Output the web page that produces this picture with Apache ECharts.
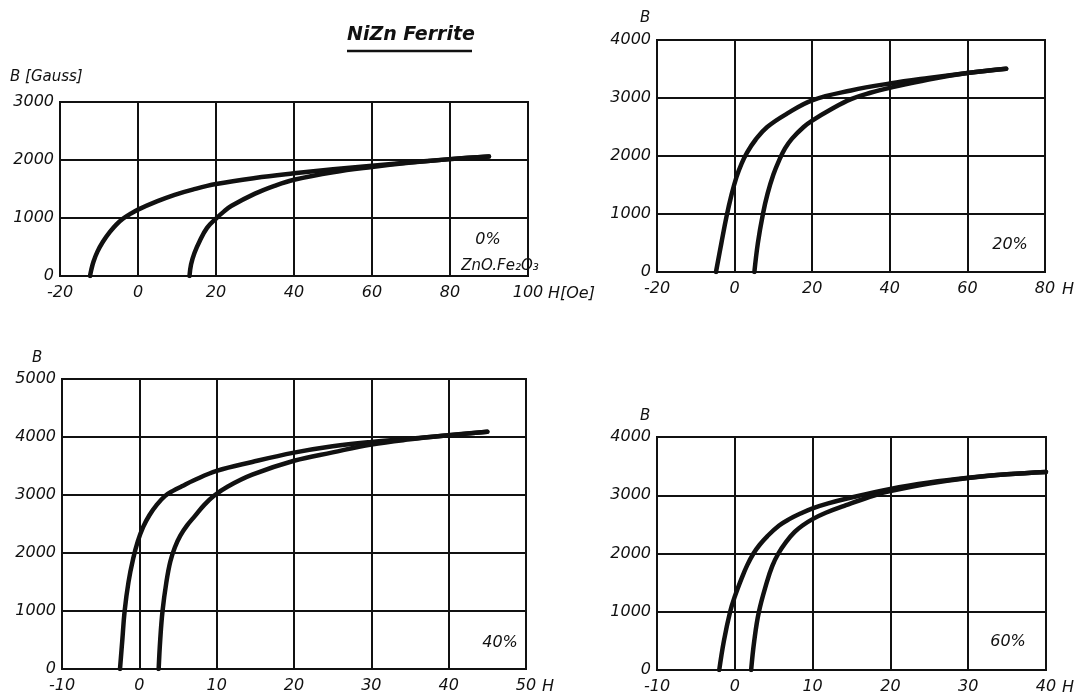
<!DOCTYPE html>
<html>
<head>
<meta charset="utf-8">
<script src="https://cdn.jsdelivr.net/npm/echarts@6/dist/echarts.min.js"></script>
<style>
  html, body { margin: 0; background: #fff; }
  #main { width: 1079px; height: 698px; }
</style>
</head>
<body>
<div id="main"></div>
<script>
// NiZn ferrite B-H curves, points are [H (Oe), B (Gauss)]
const panelLabels = ['0%', '20%', '40%', '60%']

// 0 % ZnO.Fe2O3
const upper0 = [[-12.3,0],[-12,100],[-11.4,250],[-10.4,420],[-9,590],[-7.2,760],[-5.5,890],[-3.8,990],[-2,1070],[0,1145],[5,1290],[9.4,1400],[14,1490],[20,1585],[30,1690],[40,1770],[50,1840],[60,1900],[70,1960],[80,2015],[90,2060]]
const lower0 = [[13.2,0],[13.6,200],[14.5,400],[15.8,600],[17.7,830],[20,990],[22,1110],[24,1210],[30,1420],[35,1555],[40,1660],[50,1790],[60,1880],[70,1955],[80,2015],[90,2060]]
// 20 %
const upper20 = [[-4.8,0],[-3.4,500],[-2.1,950],[-0.8,1330],[0.5,1640],[1.8,1870],[3.2,2060],[5.4,2280],[8.4,2500],[13.5,2730],[20,2960],[30,3130],[40,3250],[50,3345],[60,3430],[70,3505]]
const lower20 = [[5.1,0],[6,500],[7.3,1000],[8.5,1350],[10,1680],[11.5,1930],[13,2130],[14.8,2300],[17.8,2500],[20,2610],[25,2810],[30,2980],[35,3090],[40,3175],[50,3320],[60,3430],[70,3505]]
// 40 %
const upper40 = [[-2.5,0],[-2.2,500],[-1.9,1000],[-1.4,1500],[-0.8,1900],[-0.2,2200],[0.5,2450],[1.3,2650],[2.2,2820],[3.3,2980],[4.4,3075],[5.5,3150],[7,3250],[10,3415],[14.6,3570],[20,3730],[25,3840],[30,3915],[35,3970],[40,4030],[45,4090]]
const lower40 = [[2.5,0],[2.7,500],[3,1000],[3.5,1500],[4,1850],[4.6,2100],[5.3,2300],[6.2,2480],[7.2,2640],[8.4,2830],[9.7,2990],[11.5,3150],[14.6,3350],[20,3590],[25,3735],[30,3870],[35,3960],[40,4030],[45,4090]]
// 60 %
const upper60 = [[-2,0],[-1.4,500],[-0.6,1000],[0,1260],[0.9,1580],[1.6,1800],[2.4,2000],[3.2,2150],[4.2,2300],[5.7,2480],[7,2590],[8.5,2690],[10,2775],[12,2860],[14.3,2940],[20,3110],[25,3220],[30,3300],[35,3360],[40,3400]]
const lower60 = [[2.1,0],[2.5,500],[3.1,1000],[4.1,1500],[4.8,1780],[5.6,2000],[6.6,2200],[7.7,2370],[8.7,2480],[10,2590],[11.7,2700],[14.3,2830],[18,3000],[20,3070],[25,3200],[30,3295],[35,3360],[40,3400]]

const curves = [[upper0, lower0], [upper20, lower20], [upper40, lower40], [upper60, lower60]]

// axis ranges
const xMin = [-20, -20, -10, -10]
const xMax = [100, 80, 50, 40]
const xStep = [20, 20, 10, 10]
const yMax = [3000, 4000, 5000, 4000]

const ink = '#111'
const fam = '"DejaVu Sans", sans-serif'

let myChart = echarts.init(document.getElementById('main'))

const gridPos = [
  { left: 60, top: 102, width: 468, height: 174 },
  { left: 657, top: 40, width: 388, height: 232 },
  { left: 62, top: 379, width: 464, height: 290 },
  { left: 657, top: 437, width: 389, height: 233 }
]

const labelStyle = { color: ink, fontSize: 16, fontStyle: 'italic', fontFamily: fam, formatter: v => String(v) }
const gridLine = { show: true, lineStyle: { color: ink, width: 2 } }

let grid = [], xAxis = [], yAxis = [], series = []
gridPos.forEach((g, i) => {
  grid.push(Object.assign({ show: true, borderColor: ink, borderWidth: 2, containLabel: false, outerBoundsMode: 'none' }, g))
  xAxis.push({
    type: 'value', gridIndex: i, min: xMin[i], max: xMax[i], interval: xStep[i],
    axisLine: { show: true, onZero: false, lineStyle: { color: ink, width: 2 } },
    axisTick: { show: false },
    splitLine: gridLine,
    axisLabel: Object.assign({ margin: 9 }, labelStyle)
  })
  yAxis.push({
    type: 'value', gridIndex: i, min: 0, max: yMax[i], interval: 1000,
    axisLine: { show: true, onZero: false, lineStyle: { color: ink, width: 2 } },
    axisTick: { show: false },
    splitLine: gridLine,
    axisLabel: Object.assign({ margin: 6 }, labelStyle)
  })
  curves[i].forEach(c => {
    series.push({
      type: 'line', xAxisIndex: i, yAxisIndex: i, data: c,
      showSymbol: false, smooth: 0.4, silent: true,
      lineStyle: { color: ink, width: 4.5, cap: 'round', join: 'round' }
    })
  })
})

function txt(x, y, text, size, align, weight) {
  return {
    type: 'text', x: x, y: y, silent: true,
    style: {
      text: text, fill: ink, align: align || 'left', verticalAlign: 'middle',
      font: 'italic ' + (weight || 'normal') + ' ' + size + 'px ' + fam
    }
  }
}

const option = {
  animation: false,
  backgroundColor: '#fff',
  grid: grid,
  xAxis: xAxis,
  yAxis: yAxis,
  series: series,
  graphic: [
    txt(411, 35, 'NiZn Ferrite', 19, 'center', 'bold'),
    { type: 'line', silent: true, shape: { x1: 347, y1: 51, x2: 472, y2: 51 }, style: { stroke: ink, lineWidth: 2.5 } },
    txt(10, 77, 'B [Gauss]', 15),
    txt(640, 18, 'B', 15),
    txt(32, 358, 'B', 15),
    txt(640, 416, 'B', 15),
    txt(548, 294, 'H[Oe]', 16),
    txt(1062, 290, 'H', 16),
    txt(542, 687, 'H', 16),
    txt(1062, 688, 'H', 16),
    txt(488, 240, panelLabels[0], 16, 'center'),
    txt(500, 266, 'ZnO.Fe₂O₃', 15, 'center'),
    txt(1010, 245, panelLabels[1], 16, 'center'),
    txt(500, 643, panelLabels[2], 16, 'center'),
    txt(1008, 642, panelLabels[3], 16, 'center')
  ]
}

myChart.setOption(option)
</script>
</body>
</html>
